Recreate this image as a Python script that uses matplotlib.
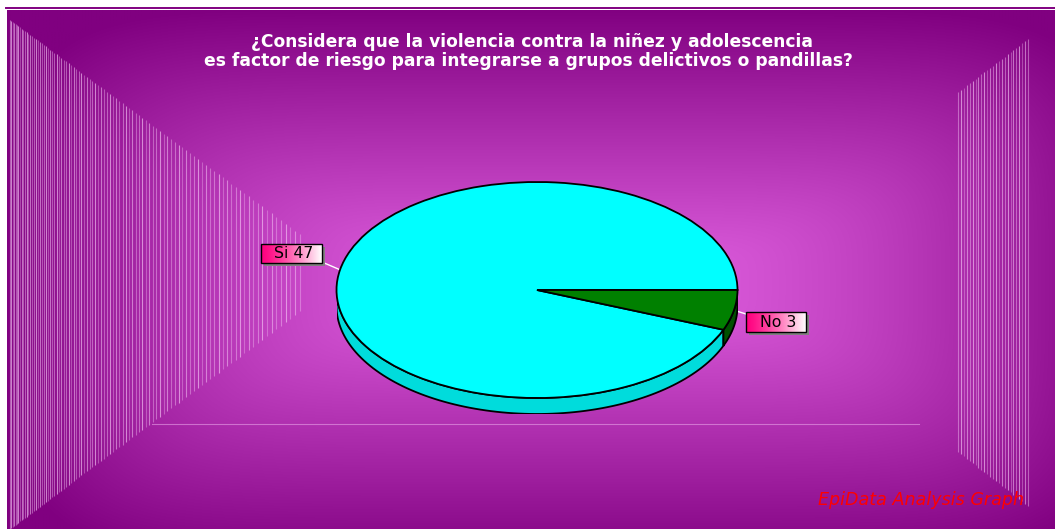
import numpy as np
import matplotlib
matplotlib.use("Agg")
import matplotlib.pyplot as plt
from matplotlib.patches import Polygon, Rectangle

# data
labels = ["Si", "No"]
values = [47, 3]
title_lines = ["¿Considera que la violencia contra la niñez y adolescencia",
               "es factor de riesgo para integrarse a grupos delictivos o pandillas?"]
footer = "EpiData Analysis Graph"

top_colors = ["#00ffff", "#008000"]
side_colors = ["#00dcdc", "#005000"]

W, H = 1055, 529
plt.rcParams['font.family'] = ['DejaVu Sans']
fig = plt.figure(figsize=(W / 100, H / 100), dpi=100, facecolor="white")

# background axes in pixel coordinates
bg = fig.add_axes([0, 0, 1, 1])
bg.set_xlim(0, W)
bg.set_ylim(H, 0)
bg.axis("off")

# purple room gradient
px0, px1, py0, py1 = 7, W, 10, H
gx = np.linspace(px0, px1, 600)
gy = np.linspace(py0, py1, 300)
X, Y = np.meshgrid(gx, gy)
u = np.clip(np.abs(X - 565) / 560, 0, 1) ** 1.8
v = np.clip(np.abs(Y - 285) / 278, 0, 1) ** 1.05
t = np.clip((u ** 4 + v ** 4) ** 0.25, 0, 1)
center = np.array([224, 96, 224]) / 255
edge = np.array([128, 0, 128]) / 255
img = center[None, None, :] * (1 - t[..., None]) + edge[None, None, :] * t[..., None]
bg.imshow(img, extent=(px0, px1, py1, py0), aspect="auto", interpolation="bilinear", zorder=0)
bg.plot([6, W], [8, 8], color="#800080", lw=1.4, zorder=1)

# left wall lines
i = np.arange(95)
lx = 10 + 1.3 * i + 0.019 * i ** 2
ltop = 20 + 0.739 * (lx - 10)
lbot = 529 - 0.75 * (lx - 10)
for k in range(len(lx)):
    a = [0.45, 0.65, 0.35, 0.55, 0.4][k % 5]
    bg.vlines(lx[k], ltop[k], lbot[k], color="#f4c4f4", alpha=a, lw=0.8, zorder=1)

# right wall lines
rx = np.linspace(958, 1028, 25)
rtop = 92 - 0.757 * (rx - 958)
rbot = 452 + 0.771 * (rx - 958)
for k in range(len(rx)):
    a = [0.45, 0.65, 0.35, 0.55][k % 4]
    bg.vlines(rx[k], rtop[k], rbot[k], color="#f4c4f4", alpha=a, lw=0.8, zorder=1)

# floor line
bg.plot([152, 919], [424, 424], color="#e8a0e8", alpha=0.6, lw=0.8, zorder=1)

# title and footer
bg.text(532, 42, title_lines[0], color="white", fontsize=12.3, fontweight="bold",
        ha="center", va="center", zorder=3)
bg.text(528, 61, title_lines[1], color="white", fontsize=12.3, fontweight="bold",
        ha="center", va="center", zorder=3)
bg.text(818, 500, footer, color="#ff0000", fontsize=12.6, style="italic",
        ha="left", va="center", zorder=3)

# pie (3D look)
cx, cy, rxp, ryp, depth = 537, 290, 200.5, 108, 16
d = depth / ryp
pax = fig.add_axes([(cx - rxp) / W, (H - (cy + ryp + depth)) / H,
                    2 * rxp / W, (2 * ryp + depth) / H])
pax.axis("off")

fr = np.array(values) / sum(values)
edges = np.concatenate([[0], np.cumsum(fr) * 360])
for k in range(len(values)):
    a0, a1 = max(edges[k], 180), min(edges[k + 1], 360)
    if a1 <= a0:
        continue
    th = np.radians(np.linspace(a0, a1, 100))
    pts = np.concatenate([np.c_[np.cos(th), np.sin(th)],
                          np.c_[np.cos(th[::-1]), np.sin(th[::-1]) - d]])
    pax.add_patch(Polygon(pts, closed=True, facecolor=side_colors[k],
                          edgecolor="black", lw=1.3, zorder=1))

wedges, _ = pax.pie(values, colors=top_colors, startangle=0, counterclock=True,
                    wedgeprops=dict(edgecolor="black", linewidth=1.3))
for w in wedges:
    w.set_zorder(2)
pax.set_aspect("auto")
pax.set_xlim(-1, 1)
pax.set_ylim(-1 - d, 1)

# labels with gradient boxes
boxes = [(261, 244, 61, 19), (746, 312, 60, 20)]
grad = np.linspace(0, 1, 200) ** 1.3
box_img = np.ones((2, 200, 3))
box_img[..., 1] = grad
box_img[..., 2] = 0.5 + 0.5 * grad
for k in range(len(values)):
    mid = np.radians((edges[k] + edges[k + 1]) / 2)
    ex = cx + rxp * np.cos(mid)
    ey = cy - ryp * np.sin(mid)
    bx, by, bw, bh = boxes[k]
    near_x = bx + bw if ex > bx + bw else bx
    bg.plot([near_x, ex], [by + bh * 0.95 if k == 0 else by + 2, ey], color="white", lw=1, zorder=4)
    bg.add_patch(Rectangle((bx + 3, by + 3), bw, bh, facecolor="#808080", edgecolor="none", zorder=4))
    bg.imshow(box_img, extent=(bx, bx + bw, by + bh, by), aspect="auto", zorder=5)
    bg.add_patch(Rectangle((bx, by), bw, bh, facecolor="none", edgecolor="black", lw=1, zorder=6))
    bg.text(bx + bw / 2 + 2, by + bh / 2 + 0.5, f"{labels[k]} {values[k]}", color="black",
            fontsize=11.3, ha="center", va="center", zorder=7)

bg.set_xlim(0, W)
bg.set_ylim(H, 0)
fig.savefig("out.png", dpi=100, facecolor="white")
